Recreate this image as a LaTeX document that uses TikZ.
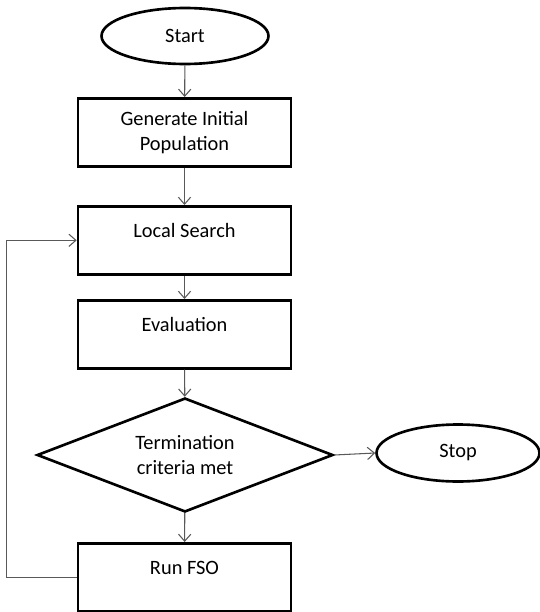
\documentclass[tikz,border=0pt]{standalone}
\usepackage{fontspec}
\setmainfont{Carlito}
\usetikzlibrary{shapes.geometric,arrows.meta}

\begin{document}
\begin{tikzpicture}[x=0.02cm,y=-0.02cm,
  font=\fontsize{11.6}{14.2}\selectfont,
  proc/.style={draw,line width=1.5pt,minimum width=4.26cm,inner sep=0pt,anchor=north},
  oneline/.style={proc,text height=0.62cm,text depth=0.74cm},
  endpt/.style={draw,ellipse,line width=1.5pt,inner sep=0pt},
  flow/.style={draw=black!65,line width=0.6pt,-{Straight Barb[length=4pt,width=7pt]}}]
\useasboundingbox (0,0) rectangle (540,612);

\node[endpt,minimum width=3.34cm,minimum height=1.12cm] (start) at (185,36) {Start};
\node[proc,minimum height=1.36cm,align=center] (init) at (184.5,97) {Generate Initial\\Population};
\node[oneline] (ls) at (184.5,205) {Local Search};
\node[oneline] (eval) at (184.5,299) {Evaluation};
\node[draw,diamond,line width=1.5pt,inner sep=0pt,aspect=2.6,
  minimum width=5.92cm,minimum height=2.28cm,align=center] (term) at (185,455) {Termination\\criteria met};
\node[endpt,minimum width=3.26cm,minimum height=1.14cm] (stop) at (458,453) {Stop};
\node[oneline] (fso) at (184.5,542) {Run FSO};

\draw[flow] (start) -- (init);
\draw[flow] (init) -- (ls);
\draw[flow] (ls) -- (eval);
\draw[flow] (eval) -- (term);
\draw[flow] (term) -- (fso);
\draw[flow] (term.east) -- (stop.west);
\draw[flow] (fso.west) -- ++(-70,0) |- (ls.west);
\end{tikzpicture}
\end{document}
